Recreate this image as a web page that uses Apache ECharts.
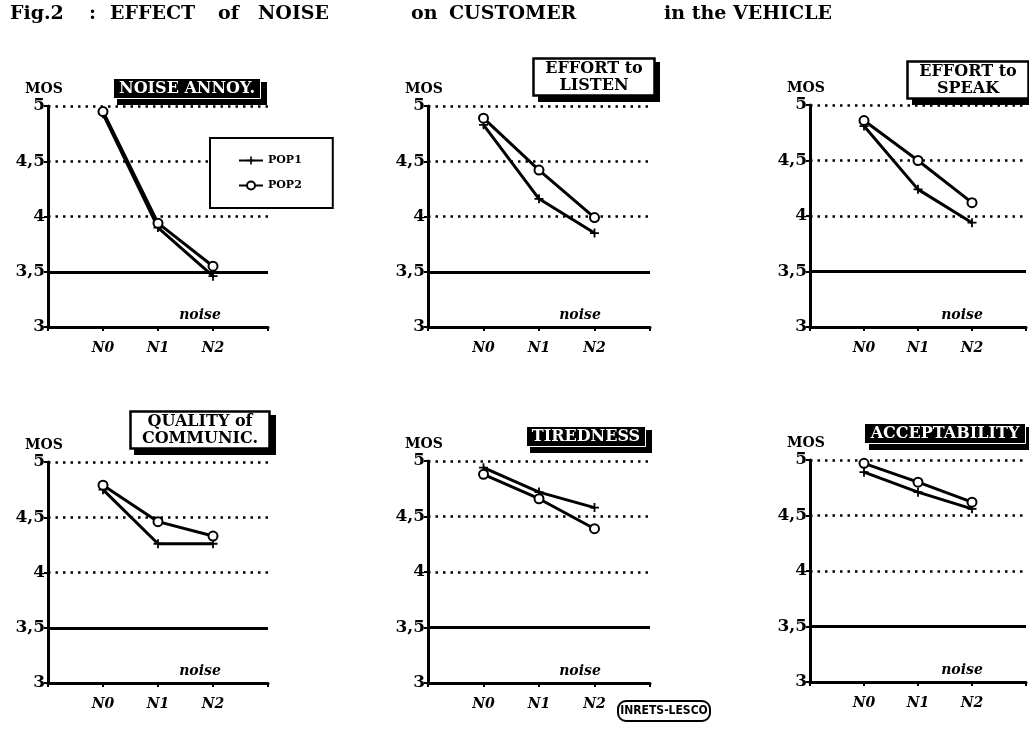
<!DOCTYPE html>
<html><head><meta charset="utf-8">
<script src="https://cdn.jsdelivr.net/npm/echarts@6/dist/echarts.min.js"></script>
<style>html,body{margin:0;padding:0;background:#fff}#c{width:1029px;height:746px}</style>
</head><body><div id="c"></div>
<script>
// ---- data ----
const xTickLabels = ['', 'N0', 'N1', 'N2', ''];
const categories = ['N0', 'N1', 'N2'];
const seriesNames = ['POP1', 'POP2'];
const panelTitles = ['NOISE ANNOY.', 'EFFORT to\nLISTEN', 'EFFORT to\nSPEAK', 'QUALITY of\nCOMMUNIC.', 'TIREDNESS', 'ACCEPTABILITY'];
const headingWords = ['Fig.2', ':', 'EFFECT', 'of', 'NOISE', 'on', 'CUSTOMER', 'in the VEHICLE'];
const noiseAnnoyPop1 = [4.93, 3.90, 3.46];
const noiseAnnoyPop2 = [4.95, 3.94, 3.55];
const listenPop1 = [4.83, 4.16, 3.85];
const listenPop2 = [4.89, 4.42, 3.99];
const speakPop1 = [4.81, 4.24, 3.94];
const speakPop2 = [4.86, 4.50, 4.12];
const qualityPop1 = [4.75, 4.26, 4.26];
const qualityPop2 = [4.79, 4.46, 4.33];
const tirednessPop1 = [4.94, 4.72, 4.58];
const tirednessPop2 = [4.88, 4.66, 4.39];
const acceptPop1 = [4.89, 4.71, 4.56];
const acceptPop2 = [4.97, 4.80, 4.62];
const thresholdMOS = 3.5;
const yMin = 3, yMax = 5, yStep = 0.5;

const panelData = [
  [noiseAnnoyPop1, noiseAnnoyPop2],
  [listenPop1, listenPop2],
  [speakPop1, speakPop2],
  [qualityPop1, qualityPop2],
  [tirednessPop1, tirednessPop2],
  [acceptPop1, acceptPop2]
];

// ---- layout ----
const headingX = [10, 89, 110, 218, 258, 411, 449, 664];
const panels = [
  {left: 48,  top: 106, width: 220, height: 221, tx: 181, ty: 78, inv: true},
  {left: 428, top: 106, width: 222, height: 221, tx: 582, ty: 58, inv: false},
  {left: 810, top: 105, width: 219, height: 222, tx: 956, ty: 61, inv: false},
  {left: 48,  top: 462, width: 220, height: 221, tx: 188, ty: 411, inv: false},
  {left: 428, top: 461, width: 222, height: 222, tx: 580, ty: 426, inv: true},
  {left: 810, top: 460, width: 219, height: 222, tx: 939, ty: 423, inv: true}
];

const SERIF = '"DejaVu Serif", "Liberation Serif", serif';
const plusPath = 'path://M4,0H6V4H10V6H6V10H4V6H0V4H4Z';

const grids = [], xAxes = [], yAxes = [], series = [], titles = [];

const mainStyle = {fontFamily: SERIF, fontWeight: 'bold', fontSize: 19, color: '#000'};
headingWords.forEach((w, k) => titles.push({text: w, left: headingX[k], top: 5, padding: 0, textStyle: mainStyle}));
titles.push(
  {text: 'INRETS-LESCO', left: 661, top: 701, textAlign: 'center', padding: [4, 3],
   borderColor: '#000', borderWidth: 2, borderRadius: 8, backgroundColor: '#fff',
   textStyle: {fontFamily: '"DejaVu Sans Condensed", "Liberation Sans Narrow", "Liberation Sans", sans-serif', fontWeight: 'bold', fontSize: 12, color: '#000'}}
);

panels.forEach((p, i) => {
  grids.push({left: p.left, top: p.top, width: p.width, height: p.height, containLabel: false});
  xAxes.push({
    type: 'value', gridIndex: i, min: 0, max: xTickLabels.length - 1, interval: 1,
    axisLine: {show: true, onZero: false, lineStyle: {color: '#000', width: 3}},
    axisTick: {show: true, length: 4, lineStyle: {color: '#000', width: 2}},
    splitLine: {show: false},
    axisLabel: {margin: 14, color: '#000', fontFamily: SERIF, fontWeight: 'bold', fontStyle: 'italic', fontSize: 14,
      formatter: v => xTickLabels[v] || ''}
  });
  yAxes.push({
    type: 'value', gridIndex: i, min: yMin, max: yMax, interval: yStep,
    name: 'MOS', nameLocation: 'end', nameGap: 10,
    nameTextStyle: {fontFamily: SERIF, fontWeight: 'bold', fontSize: 14, color: '#000', padding: [0, 8, 0, 0]},
    axisLine: {show: true, onZero: false, lineStyle: {color: '#000', width: 3}},
    axisTick: {show: true, length: 4, lineStyle: {color: '#000', width: 2}},
    splitLine: {show: true, lineStyle: {color: '#000', width: 2.5, type: [2.5, 5]}},
    axisLabel: {margin: 3, color: '#000', fontFamily: SERIF, fontWeight: 'bold', fontSize: 17,
      formatter: v => String(v).replace('.', ',')}
  });
  const boxText = {fontFamily: SERIF, fontWeight: 'bold', fontSize: 16, lineHeight: 17};
  const pad = p.inv ? [2, 6] : [2, 12];
  // shadow block (drawn underneath)
  titles.push({
    text: panelTitles[i], left: p.tx + 5, top: p.ty + 5, textAlign: 'center', z: 4,
    padding: pad, backgroundColor: '#000', borderColor: '#000', borderWidth: 2,
    textStyle: Object.assign({}, boxText, {color: 'rgba(0,0,0,0)'})
  });
  titles.push({
    text: panelTitles[i], left: p.tx, top: p.ty, textAlign: 'center', z: 8,
    padding: pad, backgroundColor: p.inv ? '#000' : '#fff', borderColor: p.inv ? '#fff' : '#000', borderWidth: p.inv ? 1 : 2.5,
    textStyle: Object.assign({}, boxText, {color: p.inv ? '#fff' : '#000'})
  });
  titles.push({
    text: 'noise', left: p.left + 147, top: p.top + p.height - 24, textAlign: 'center',
    textStyle: {fontFamily: SERIF, fontWeight: 'bold', fontStyle: 'italic', fontSize: 14, color: '#000'}
  });
  panelData[i].forEach((vals, s) => {
    const pts = vals.map((v, k) => [xTickLabels.indexOf(categories[k]), v]);
    const isPop2 = s === 1;
    series.push({
      type: 'line', name: seriesNames[s], xAxisIndex: i, yAxisIndex: i,
      data: pts, z: 3 + s,
      symbol: isPop2 ? 'circle' : plusPath,
      symbolSize: 9,
      showSymbol: true,
      lineStyle: {color: '#000', width: 3},
      itemStyle: isPop2 ? {color: '#fff', borderColor: '#000', borderWidth: 2} : {color: '#000', borderWidth: 0},
      markLine: s === 0 ? {
        silent: true, symbol: 'none', label: {show: false},
        lineStyle: {color: '#000', width: 3, type: 'solid'},
        data: [{yAxis: thresholdMOS}]
      } : undefined
    });
  });
});

const chart = echarts.init(document.getElementById('c'), null, {renderer: 'canvas'});
chart.setOption({
  animation: false,
  backgroundColor: '#fff',
  title: titles,
  grid: grids,
  xAxis: xAxes,
  yAxis: yAxes,
  legend: {
    data: seriesNames, orient: 'vertical', left: 210, top: 138,
    padding: [17, 31, 17, 28], itemGap: 14, itemWidth: 24, itemHeight: 10,
    borderColor: '#000', borderWidth: 2, backgroundColor: '#fff',
    textStyle: {fontFamily: SERIF, fontWeight: 'bold', fontSize: 11, color: '#000'}
  },
  series: series
});
</script></body></html>
